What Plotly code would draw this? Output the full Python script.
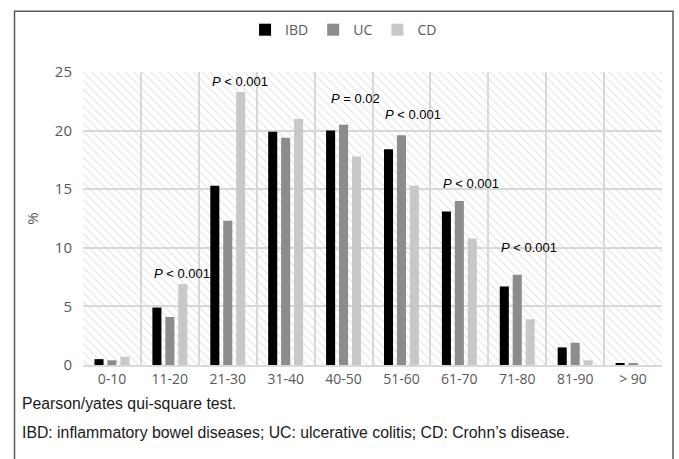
import plotly.graph_objects as go

categories = ["0-10", "11-20", "21-30", "31-40", "40-50", "51-60", "61-70", "71-80", "81-90", "> 90"]
ibd = [0.5, 4.9, 15.3, 19.9, 20.0, 18.4, 13.1, 6.7, 1.5, 0.1]
uc = [0.4, 4.1, 12.3, 19.4, 20.5, 19.6, 14.0, 7.7, 1.9, 0.1]
cd = [0.7, 6.9, 23.3, 21.0, 17.8, 15.3, 10.8, 3.9, 0.4, 0.0]

p_categories = ["11-20", "21-30", "40-50", "51-60", "61-70", "71-80"]
p_texts = ["<i>P</i> < 0.001", "<i>P</i> < 0.001", "<i>P</i> = 0.02", "<i>P</i> < 0.001", "<i>P</i> < 0.001", "<i>P</i> < 0.001"]
p_y = [7.8, 24.2, 22.7, 21.4, 15.5, 10.0]

y_max = 25
footnotes = ["Pearson/yates qui-square test.",
             "IBD: inflammatory bowel diseases; UC: ulcerative colitis; CD: Crohn\u2019s disease."]

fig = go.Figure()

# hatched plot-area background
fig.add_trace(go.Bar(
    x=categories, y=[y_max] * len(categories), width=1, offset=-0.5,
    marker=dict(color="rgba(0,0,0,0)", line=dict(width=0),
                pattern=dict(shape="\\", fgcolor="#cfcfcf", size=6, solidity=0.22)),
    hoverinfo="skip", showlegend=False,
))

for name, vals, col in [("IBD", ibd, "#000000"), ("UC", uc, "#8c8c8c"), ("CD", cd, "#c8c8c8")]:
    fig.add_trace(go.Bar(x=categories, y=vals, name=name, marker=dict(color=col, line=dict(width=0))))

for c, t, y in zip(p_categories, p_texts, p_y):
    fig.add_annotation(x=c, y=y, text=t, showarrow=False, xshift=12,
                       font=dict(family="Liberation Sans, Arial", size=13, color="#000000"))

for i, t in enumerate(footnotes):
    fig.add_annotation(xref="paper", yref="paper", x=-0.108, y=-0.133 - 0.099 * i,
                       xanchor="left", yanchor="middle", text=t, showarrow=False,
                       font=dict(family="Liberation Sans, Arial", size=15.8, color="#1a1a1a"))

# outer frame (open at the bottom)
fig.add_shape(type="path", xref="paper", yref="paper",
              path="M -0.1183 -0.4 L -0.1183 1.2075 L 1.0190 1.2075 L 1.0190 -0.4",
              line=dict(color="#595959", width=1.5))

fig.update_layout(
    width=679, height=459,
    margin=dict(l=83, r=17, t=72, b=94),
    paper_bgcolor="white", plot_bgcolor="white",
    barmode="group", bargap=0.33, bargroupgap=0.3,
    font=dict(family="Open Sans, Noto Sans, sans-serif", color="#595959"),
    legend=dict(orientation="h", x=0.45, xanchor="center", y=1.143, yanchor="middle",
                font=dict(size=14, color="#595959"), itemwidth=30, traceorder="normal"),
    xaxis=dict(type="category", tickson="boundaries", showgrid=True, gridcolor="#d9d9d9", gridwidth=2,
               ticks="", tickfont=dict(size=14, color="#595959"),
               showline=True, linecolor="#d9d9d9", linewidth=2, range=[-0.5, 9.5]),
    yaxis=dict(range=[0, y_max], dtick=5, showgrid=True, gridcolor="#d9d9d9", gridwidth=2,
               zeroline=False, ticks="", tickfont=dict(size=15, color="#595959"),
               ticklabelstandoff=10,
               title=dict(text="%", font=dict(size=15, color="#595959"), standoff=12)),
    showlegend=True,
)

fig.write_html("out.html", config={"displayModeBar": False},
               post_script="document.body.style.margin='0';")
